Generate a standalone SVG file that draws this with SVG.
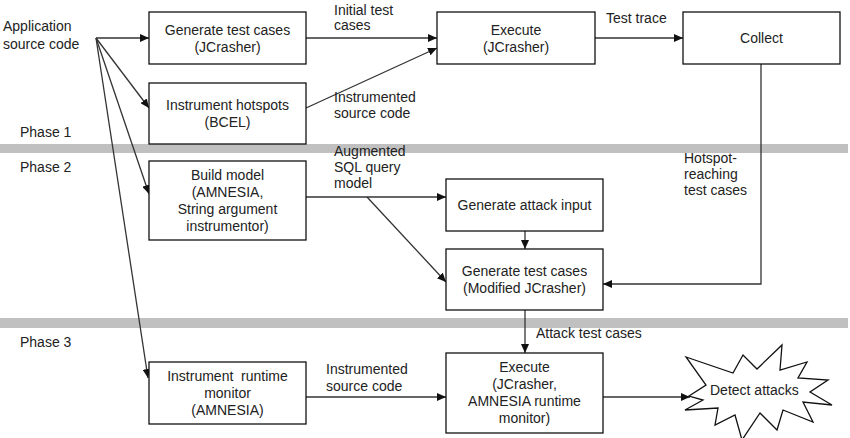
<svg xmlns="http://www.w3.org/2000/svg" width="850" height="438" viewBox="0 0 850 438">
<defs>
<marker id="arr" markerWidth="9" markerHeight="8" refX="9" refY="4" orient="auto" markerUnits="userSpaceOnUse">
<path d="M0,0 L9,4 L0,8 Z" fill="#111"/>
</marker>
<style>
text{font-family:"Liberation Sans",Arial,sans-serif;font-size:14px;fill:#222;}
.c{text-anchor:middle;}
.box{fill:#fff;stroke:#111;stroke-width:1.3;}
.bar{fill:#c0c0c0;}
.ln{fill:none;stroke:#333;stroke-width:1.3;}
.ar{marker-end:url(#arr);}
</style>
</defs>
<rect width="850" height="438" fill="#fff"/>
<g id="phase-bars">
<rect class="bar" x="0" y="144" width="848" height="9"/>
<rect class="bar" x="0" y="318" width="848" height="10"/>
<text x="20" y="137">Phase 1</text>
<text x="20" y="172">Phase 2</text>
<text x="20" y="347">Phase 3</text>
</g>
<g id="source">
<text x="3" y="31">Application</text>
<text x="3" y="49">source code</text>
</g>
<g id="connectors">
<line class="ln ar" x1="96" y1="38" x2="149" y2="38"/>
<line class="ln ar" x1="96" y1="38" x2="149" y2="108"/>
<line class="ln ar" x1="96" y1="38" x2="149" y2="194"/>
<line class="ln ar" x1="96" y1="38" x2="148" y2="378"/>
<line class="ln ar" x1="306" y1="38" x2="437" y2="38"/>
<line class="ln ar" x1="306" y1="108" x2="437" y2="48"/>
<line class="ln ar" x1="595" y1="38" x2="683" y2="38"/>
<polyline class="ln ar" points="761,64 761,284 603,284"/>
<line class="ln ar" x1="306" y1="197" x2="446" y2="197"/>
<line class="ln ar" x1="367" y1="197" x2="446" y2="282"/>
<line class="ln ar" x1="525" y1="231" x2="525" y2="249"/>
<line class="ln ar" x1="525" y1="310" x2="525" y2="353"/>
<line class="ln ar" x1="306" y1="397" x2="446" y2="397"/>
<line class="ln ar" x1="603" y1="397" x2="690" y2="397"/>
<text x="334" y="15">Initial test</text>
<text x="334" y="30">cases</text>
<text x="334" y="102">Instrumented</text>
<text x="334" y="118">source code</text>
<text x="606" y="23">Test trace</text>
<text x="334" y="156">Augmented</text>
<text x="334" y="172">SQL query</text>
<text x="334" y="188">model</text>
<text x="684" y="163">Hotspot-</text>
<text x="684" y="179">reaching</text>
<text x="684" y="195">test cases</text>
<text x="536" y="338">Attack test cases</text>
<text x="326" y="374">Instrumented</text>
<text x="326" y="391">source code</text>
</g>
<g id="gen-test-cases">
<rect class="box" x="149" y="12" width="157" height="52"/>
<text class="c" x="227.5" y="34.5">Generate test cases</text>
<text class="c" x="227.5" y="51.5">(JCrasher)</text>
</g>
<g id="instrument-hotspots">
<rect class="box" x="149" y="83" width="157" height="61"/>
<text class="c" x="227.5" y="110">Instrument hotspots</text>
<text class="c" x="227.5" y="127">(BCEL)</text>
</g>
<g id="execute-1">
<rect class="box" x="437" y="12" width="158" height="52"/>
<text class="c" x="516" y="35">Execute</text>
<text class="c" x="516" y="52">(JCrasher)</text>
</g>
<g id="collect">
<rect class="box" x="683" y="12" width="157" height="52"/>
<text class="c" x="761.5" y="43">Collect</text>
</g>
<g id="build-model">
<rect class="box" x="149" y="161" width="157" height="79"/>
<text class="c" x="227.5" y="180">Build model</text>
<text class="c" x="227.5" y="197">(AMNESIA,</text>
<text class="c" x="227.5" y="214">String argument</text>
<text class="c" x="227.5" y="231">instrumentor)</text>
</g>
<g id="gen-attack-input">
<rect class="box" x="446" y="179" width="157" height="52"/>
<text class="c" x="524.5" y="210">Generate attack input</text>
</g>
<g id="gen-test-cases-modified">
<rect class="box" x="446" y="249" width="157" height="61"/>
<text class="c" x="524.5" y="276">Generate test cases</text>
<text class="c" x="524.5" y="293">(Modified JCrasher)</text>
</g>
<g id="instrument-runtime-monitor">
<rect class="box" x="149" y="362" width="157" height="62"/>
<text class="c" x="227.5" y="381" style="white-space:pre">Instrument  runtime</text>
<text class="c" x="227.5" y="398">monitor</text>
<text class="c" x="227.5" y="415">(AMNESIA)</text>
</g>
<g id="execute-2">
<rect class="box" x="446" y="353" width="157" height="80"/>
<text class="c" x="524.5" y="372">Execute</text>
<text class="c" x="524.5" y="389">(JCrasher,</text>
<text class="c" x="524.5" y="406">AMNESIA runtime</text>
<text class="c" x="524.5" y="423">monitor)</text>
</g>
<g id="detect-attacks">
<polygon class="box" points="686,357 733,373 743,355 757,369 782,345 780,370 807,362 798,378 828,380 810,392 832,405 803,402 813,422 783,410 777,430 760,413 742,440 735,415 715,425 718,408 685,410 703,400 689,396 706,385"/>
<text x="710" y="395">Detect attacks</text>
</g>
</svg>
